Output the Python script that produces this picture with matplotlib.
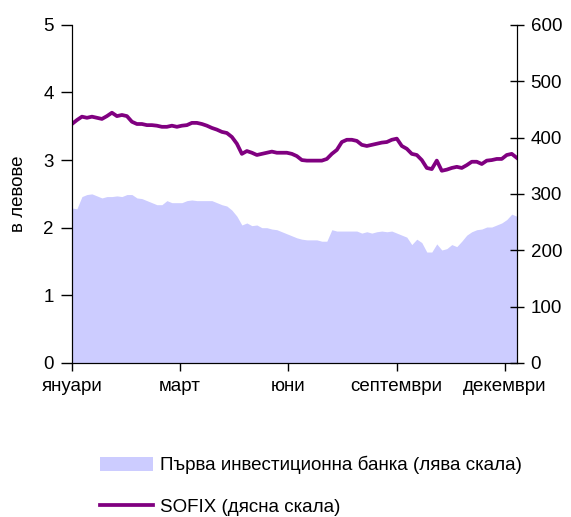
import matplotlib.pyplot as plt
from matplotlib.patches import Patch
from matplotlib.lines import Line2D
import numpy as np

plt.rcParams['font.family'] = ['Liberation Sans', 'DejaVu Sans']

# month labels on the x axis (evenly spaced category ticks)
months = ['януари', 'март', 'юни', 'септември', 'декември']

# Първа инвестиционна банка, лева (left scale)
fib = [2.29, 2.28, 2.46, 2.49, 2.50, 2.47, 2.44, 2.46, 2.46, 2.47,
       2.46, 2.49, 2.49, 2.44, 2.43, 2.40, 2.37, 2.34, 2.34, 2.40,
       2.37, 2.37, 2.37, 2.40, 2.41, 2.40, 2.40, 2.40, 2.40, 2.37,
       2.34, 2.32, 2.26, 2.17, 2.04, 2.07, 2.03, 2.04, 2.00, 2.00,
       1.98, 1.97, 1.94, 1.91, 1.88, 1.85, 1.83, 1.82, 1.82, 1.82,
       1.80, 1.80, 1.97, 1.95, 1.95, 1.95, 1.95, 1.95, 1.92, 1.94,
       1.92, 1.94, 1.95, 1.94, 1.95, 1.92, 1.89, 1.86, 1.75, 1.83,
       1.78, 1.64, 1.64, 1.76, 1.67, 1.69, 1.75, 1.72, 1.80, 1.89,
       1.94, 1.97, 1.98, 2.01, 2.01, 2.04, 2.07, 2.12, 2.20, 2.17]

# SOFIX index (right scale)
sofix = [424, 431, 437, 435, 437, 435, 433, 438, 444, 438,
         440, 438, 428, 424, 424, 422, 422, 421, 419, 419,
         421, 419, 421, 422, 426, 426, 424, 421, 417, 414,
         410, 408, 401, 389, 371, 376, 373, 369, 371, 373,
         375, 373, 373, 373, 371, 367, 360, 359, 359, 359,
         359, 362, 371, 378, 392, 396, 396, 394, 387, 385,
         387, 389, 391, 392, 396, 398, 385, 380, 371, 369,
         360, 346, 344, 359, 341, 343, 346, 348, 346, 351,
         357, 357, 353, 359, 360, 362, 362, 369, 371, 364]

x = np.arange(len(fib))
tick_pos = np.linspace(0, 86.6, len(months))
fs = 13.5

fig = plt.figure(figsize=(5.71, 5.17), dpi=100)
ax = fig.add_axes([0.126, 0.298, 0.779, 0.654])
ax2 = ax.twinx()

ax.fill_between(x, 0, fib, color='#ccccff', linewidth=0)
ax2.plot(x, sofix, color='#800080', linewidth=2.7)

ax.set_xlim(0, len(fib) - 1)
ax.set_ylim(0, 5)
ax2.set_ylim(0, 600)
ax.set_yticks(range(0, 6))
ax2.set_yticks(range(0, 601, 100))
ax.set_xticks(tick_pos)
ax.set_xticklabels(months)

for a in (ax, ax2):
    a.spines['top'].set_visible(False)
    a.tick_params(labelsize=fs, width=1, colors='black')
ax.tick_params(axis='y', direction='out', length=8, pad=5)
ax.tick_params(axis='x', direction='out', length=6, pad=5)
ax2.tick_params(axis='y', direction='inout', length=10, pad=5)

ax.set_ylabel('в левове', fontsize=fs, labelpad=12)

handles = [Patch(facecolor='#ccccff', edgecolor='none'),
           Line2D([0], [0], color='#800080', linewidth=2.7)]
labels = ['Първа инвестиционна банка (лява скала)', 'SOFIX (дясна скала)']
fig.legend(handles, labels, loc='upper left', bbox_to_anchor=(0.175, 0.118),
           frameon=False, fontsize=fs, handlelength=2.85, handleheight=0.75,
           labelspacing=1.3, handletextpad=0.37, borderpad=0, borderaxespad=0)

fig.savefig('out.png', dpi=100)
